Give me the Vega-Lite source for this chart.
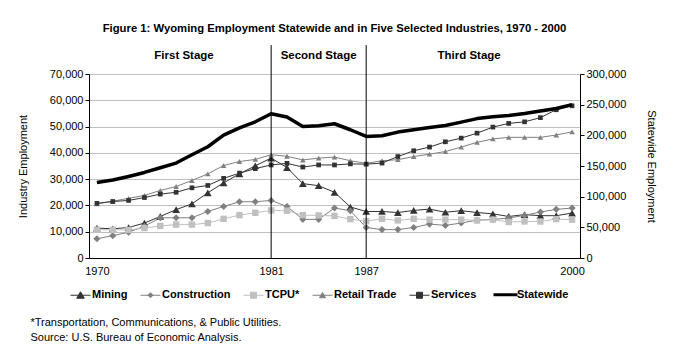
{
  "$schema": "https://vega.github.io/schema/vega-lite/v6.json",
  "width": 491,
  "height": 184,
  "autosize": "none",
  "padding": {"left": 89, "top": 74, "right": 93, "bottom": 101},
  "background": "white",
  "title": {
    "text": "Figure 1: Wyoming Employment Statewide and in Five Selected Industries, 1970 - 2000",
    "frame": "group", "anchor": "middle", "offset": 10,
    "font": "Liberation Sans", "fontSize": 11.3, "fontWeight": "bold", "color": "black"
  },
  "config": {
    "view": {"stroke": null},
    "font": "Liberation Sans",
    "axis": {
      "labelFont": "Liberation Sans", "labelFontSize": 11, "labelColor": "black",
      "titleFont": "Liberation Sans", "titleFontSize": 11, "titleFontWeight": "normal", "titleColor": "black",
      "domainColor": "black", "tickColor": "black"
    },
    "legend": {
      "orient": "none", "legendX": -14, "legendY": 215, "direction": "horizontal", "columns": 6,
      "labelFont": "Liberation Sans", "labelFontSize": 11, "labelFontWeight": "bold", "labelColor": "black",
      "symbolSize": 400, "labelOffset": 6, "columnPadding": 10, "padding": 0
    }
  },
  "data": {"values": [
    {"year":1970,"series":"Mining","value":11400},{"year":1971,"series":"Mining","value":11100},{"year":1972,"series":"Mining","value":11600},{"year":1973,"series":"Mining","value":13300},{"year":1974,"series":"Mining","value":15800},{"year":1975,"series":"Mining","value":18400},{"year":1976,"series":"Mining","value":20600},{"year":1977,"series":"Mining","value":24800},{"year":1978,"series":"Mining","value":28600},{"year":1979,"series":"Mining","value":32000},{"year":1980,"series":"Mining","value":35100},{"year":1981,"series":"Mining","value":38000},{"year":1982,"series":"Mining","value":34400},{"year":1983,"series":"Mining","value":28300},{"year":1984,"series":"Mining","value":27500},{"year":1985,"series":"Mining","value":25000},{"year":1986,"series":"Mining","value":19400},{"year":1987,"series":"Mining","value":17700},{"year":1988,"series":"Mining","value":17700},{"year":1989,"series":"Mining","value":17300},{"year":1990,"series":"Mining","value":18100},{"year":1991,"series":"Mining","value":18600},{"year":1992,"series":"Mining","value":17400},{"year":1993,"series":"Mining","value":18000},{"year":1994,"series":"Mining","value":17300},{"year":1995,"series":"Mining","value":16800},{"year":1996,"series":"Mining","value":15800},{"year":1997,"series":"Mining","value":16500},{"year":1998,"series":"Mining","value":16100},{"year":1999,"series":"Mining","value":16100},{"year":2000,"series":"Mining","value":17100},
    {"year":1970,"series":"Construction","value":7300},{"year":1971,"series":"Construction","value":8500},{"year":1972,"series":"Construction","value":9800},{"year":1973,"series":"Construction","value":12100},{"year":1974,"series":"Construction","value":15300},{"year":1975,"series":"Construction","value":15300},{"year":1976,"series":"Construction","value":15300},{"year":1977,"series":"Construction","value":17700},{"year":1978,"series":"Construction","value":19600},{"year":1979,"series":"Construction","value":21400},{"year":1980,"series":"Construction","value":21400},{"year":1981,"series":"Construction","value":21900},{"year":1982,"series":"Construction","value":19600},{"year":1983,"series":"Construction","value":14700},{"year":1984,"series":"Construction","value":14700},{"year":1985,"series":"Construction","value":19000},{"year":1986,"series":"Construction","value":18000},{"year":1987,"series":"Construction","value":11600},{"year":1988,"series":"Construction","value":10800},{"year":1989,"series":"Construction","value":10800},{"year":1990,"series":"Construction","value":11600},{"year":1991,"series":"Construction","value":12900},{"year":1992,"series":"Construction","value":12400},{"year":1993,"series":"Construction","value":13300},{"year":1994,"series":"Construction","value":14400},{"year":1995,"series":"Construction","value":14700},{"year":1996,"series":"Construction","value":15200},{"year":1997,"series":"Construction","value":16200},{"year":1998,"series":"Construction","value":17500},{"year":1999,"series":"Construction","value":18500},{"year":2000,"series":"Construction","value":19000},
    {"year":1970,"series":"TCPU*","value":10800},{"year":1971,"series":"TCPU*","value":10700},{"year":1972,"series":"TCPU*","value":10700},{"year":1973,"series":"TCPU*","value":11400},{"year":1974,"series":"TCPU*","value":12200},{"year":1975,"series":"TCPU*","value":12700},{"year":1976,"series":"TCPU*","value":12700},{"year":1977,"series":"TCPU*","value":13300},{"year":1978,"series":"TCPU*","value":14900},{"year":1979,"series":"TCPU*","value":16300},{"year":1980,"series":"TCPU*","value":17200},{"year":1981,"series":"TCPU*","value":18100},{"year":1982,"series":"TCPU*","value":18000},{"year":1983,"series":"TCPU*","value":16300},{"year":1984,"series":"TCPU*","value":16200},{"year":1985,"series":"TCPU*","value":16000},{"year":1986,"series":"TCPU*","value":14800},{"year":1987,"series":"TCPU*","value":14000},{"year":1988,"series":"TCPU*","value":14900},{"year":1989,"series":"TCPU*","value":14300},{"year":1990,"series":"TCPU*","value":14900},{"year":1991,"series":"TCPU*","value":14600},{"year":1992,"series":"TCPU*","value":14600},{"year":1993,"series":"TCPU*","value":14600},{"year":1994,"series":"TCPU*","value":14300},{"year":1995,"series":"TCPU*","value":14600},{"year":1996,"series":"TCPU*","value":13700},{"year":1997,"series":"TCPU*","value":13900},{"year":1998,"series":"TCPU*","value":13900},{"year":1999,"series":"TCPU*","value":14800},{"year":2000,"series":"TCPU*","value":14600},
    {"year":1970,"series":"Retail Trade","value":20600},{"year":1971,"series":"Retail Trade","value":21600},{"year":1972,"series":"Retail Trade","value":22700},{"year":1973,"series":"Retail Trade","value":23800},{"year":1974,"series":"Retail Trade","value":25700},{"year":1975,"series":"Retail Trade","value":27200},{"year":1976,"series":"Retail Trade","value":29500},{"year":1977,"series":"Retail Trade","value":32000},{"year":1978,"series":"Retail Trade","value":35200},{"year":1979,"series":"Retail Trade","value":36700},{"year":1980,"series":"Retail Trade","value":37500},{"year":1981,"series":"Retail Trade","value":39300},{"year":1982,"series":"Retail Trade","value":38700},{"year":1983,"series":"Retail Trade","value":37300},{"year":1984,"series":"Retail Trade","value":38000},{"year":1985,"series":"Retail Trade","value":38400},{"year":1986,"series":"Retail Trade","value":37000},{"year":1987,"series":"Retail Trade","value":36000},{"year":1988,"series":"Retail Trade","value":37000},{"year":1989,"series":"Retail Trade","value":37400},{"year":1990,"series":"Retail Trade","value":38600},{"year":1991,"series":"Retail Trade","value":39500},{"year":1992,"series":"Retail Trade","value":40500},{"year":1993,"series":"Retail Trade","value":42200},{"year":1994,"series":"Retail Trade","value":44000},{"year":1995,"series":"Retail Trade","value":45300},{"year":1996,"series":"Retail Trade","value":45900},{"year":1997,"series":"Retail Trade","value":45900},{"year":1998,"series":"Retail Trade","value":45900},{"year":1999,"series":"Retail Trade","value":46800},{"year":2000,"series":"Retail Trade","value":48000},
    {"year":1970,"series":"Services","value":20800},{"year":1971,"series":"Services","value":21500},{"year":1972,"series":"Services","value":21900},{"year":1973,"series":"Services","value":23000},{"year":1974,"series":"Services","value":24300},{"year":1975,"series":"Services","value":25000},{"year":1976,"series":"Services","value":26700},{"year":1977,"series":"Services","value":27600},{"year":1978,"series":"Services","value":30300},{"year":1979,"series":"Services","value":32300},{"year":1980,"series":"Services","value":34000},{"year":1981,"series":"Services","value":35400},{"year":1982,"series":"Services","value":36000},{"year":1983,"series":"Services","value":34600},{"year":1984,"series":"Services","value":35400},{"year":1985,"series":"Services","value":35400},{"year":1986,"series":"Services","value":35800},{"year":1987,"series":"Services","value":35700},{"year":1988,"series":"Services","value":36100},{"year":1989,"series":"Services","value":38600},{"year":1990,"series":"Services","value":40800},{"year":1991,"series":"Services","value":42200},{"year":1992,"series":"Services","value":44200},{"year":1993,"series":"Services","value":45600},{"year":1994,"series":"Services","value":47500},{"year":1995,"series":"Services","value":49800},{"year":1996,"series":"Services","value":51200},{"year":1997,"series":"Services","value":51800},{"year":1998,"series":"Services","value":53400},{"year":1999,"series":"Services","value":56400},{"year":2000,"series":"Services","value":57900},
    {"year":1970,"series":"Statewide","value":123200},{"year":1971,"series":"Statewide","value":127100},{"year":1972,"series":"Statewide","value":133000},{"year":1973,"series":"Statewide","value":139500},{"year":1974,"series":"Statewide","value":147100},{"year":1975,"series":"Statewide","value":154800},{"year":1976,"series":"Statewide","value":168300},{"year":1977,"series":"Statewide","value":181400},{"year":1978,"series":"Statewide","value":200400},{"year":1979,"series":"Statewide","value":212300},{"year":1980,"series":"Statewide","value":222100},{"year":1981,"series":"Statewide","value":235200},{"year":1982,"series":"Statewide","value":229800},{"year":1983,"series":"Statewide","value":214500},{"year":1984,"series":"Statewide","value":215600},{"year":1985,"series":"Statewide","value":218900},{"year":1986,"series":"Statewide","value":209100},{"year":1987,"series":"Statewide","value":198200},{"year":1988,"series":"Statewide","value":199300},{"year":1989,"series":"Statewide","value":205300},{"year":1990,"series":"Statewide","value":209100},{"year":1991,"series":"Statewide","value":212800},{"year":1992,"series":"Statewide","value":216100},{"year":1993,"series":"Statewide","value":221500},{"year":1994,"series":"Statewide","value":227300},{"year":1995,"series":"Statewide","value":230300},{"year":1996,"series":"Statewide","value":232400},{"year":1997,"series":"Statewide","value":235700},{"year":1998,"series":"Statewide","value":239700},{"year":1999,"series":"Statewide","value":243800},{"year":2000,"series":"Statewide","value":250100}
  ]},
  "layer": [
    {
      "layer": [
        {
          "transform": [{"filter": "datum.series !== 'Statewide'"}],
          "mark": {"type": "line", "strokeWidth": 1},
          "encoding": {
            "x": {"field": "year", "type": "quantitative",
              "scale": {"domain": [1969.5, 2000.5], "nice": false, "zero": false},
              "axis": {"values": [1970, 1981, 1987, 2000], "format": "d", "grid": false, "ticks": false, "labelPadding": 7,
                "title": ["*Transportation, Communications, & Public Utilities.", "Source: U.S. Bureau of Economic Analysis."],
                "titleAnchor": "start", "titleAlign": "left", "titleBaseline": "top", "titleX": -59, "titleY": 58, "titleLineHeight": 15}},
            "y": {"field": "value", "type": "quantitative",
              "scale": {"domain": [0, 70000], "nice": false},
              "axis": {"values": [0,10000,20000,30000,40000,50000,60000,70000], "format": ",d", "labelOverlap": false, "grid": true, "gridColor": "#c0c0c0",
                "tickSize": 4, "labelPadding": 2, "title": "Industry Employment", "titlePadding": 21}},
            "color": {"field": "series", "type": "nominal",
              "scale": {"domain": ["Mining","Construction","TCPU*","Retail Trade","Services","Statewide"],
                        "range": ["#333333","#808080","#c0c0c0","#808080","#333333","#000000"]},
              "legend": {"title": null,
                "encode": {"symbols": {"update": {
                  "shape": {"signal": "datum.value === 'Mining' ? 'M-1,0H1M-0.38,0.3L0,-0.35L0.38,0.3Z' : datum.value === 'Construction' ? 'M-1,0H1M-0.25,0L0,-0.25L0.25,0L0,0.25Z' : datum.value === 'Retail Trade' ? 'M-1,0H1M-0.3,0.25L0,-0.28L0.3,0.25Z' : datum.value === 'Statewide' ? 'M-1.2,0H1.2' : 'M-1,0H1M-0.3,-0.3H0.3V0.3H-0.3Z'"},
                  "fill": {"signal": "scale('color', datum.value)"},
                  "stroke": {"signal": "scale('color', datum.value)"},
                  "strokeWidth": {"signal": "datum.value === 'Statewide' ? 3 : 1"},
                  "opacity": {"value": 1}
                }}}}
            }
          }
        },
        {
          "transform": [{"filter": "datum.series !== 'Statewide'"}],
          "mark": {"type": "point", "filled": true, "opacity": 1, "strokeWidth": 0},
          "encoding": {
            "x": {"field": "year", "type": "quantitative",
              "scale": {"domain": [1969.5, 2000.5], "nice": false, "zero": false},
              "axis": {"values": [1970, 1981, 1987, 2000], "format": "d", "grid": false, "ticks": false, "labelPadding": 7,
                "title": ["*Transportation, Communications, & Public Utilities.", "Source: U.S. Bureau of Economic Analysis."],
                "titleAnchor": "start", "titleAlign": "left", "titleBaseline": "top", "titleX": -59, "titleY": 58, "titleLineHeight": 15}},
            "y": {"field": "value", "type": "quantitative",
              "scale": {"domain": [0, 70000], "nice": false},
              "axis": {"values": [0,10000,20000,30000,40000,50000,60000,70000], "format": ",d", "labelOverlap": false, "grid": true, "gridColor": "#c0c0c0",
                "tickSize": 4, "labelPadding": 2, "title": "Industry Employment", "titlePadding": 21}},
            "color": {"field": "series", "type": "nominal", "legend": null},
            "shape": {"field": "series", "type": "nominal", "legend": null,
              "scale": {"domain": ["Mining","Construction","TCPU*","Retail Trade","Services"],
                        "range": ["triangle-up","diamond","square","triangle-up","square"]}},
            "size": {"field": "series", "type": "nominal", "legend": null,
              "scale": {"domain": ["Mining","Construction","TCPU*","Retail Trade","Services"],
                        "range": [60, 22, 42, 34, 42]}}
          }
        },
        {
          "data": {"values": [{"year": 1981}, {"year": 1987}]},
          "mark": {"type": "rule", "color": "black", "strokeWidth": 1},
          "encoding": {
            "x": {"field": "year", "type": "quantitative",
              "scale": {"domain": [1969.5, 2000.5], "nice": false, "zero": false},
              "axis": {"values": [1970, 1981, 1987, 2000], "format": "d", "grid": false, "ticks": false, "labelPadding": 7,
                "title": ["*Transportation, Communications, & Public Utilities.", "Source: U.S. Bureau of Economic Analysis."],
                "titleAnchor": "start", "titleAlign": "left", "titleBaseline": "top", "titleX": -59, "titleY": 58, "titleLineHeight": 15}},
            "y": {"datum": 0, "scale": {"domain": [0, 70000], "nice": false},
              "axis": {"values": [0,10000,20000,30000,40000,50000,60000,70000], "format": ",d", "labelOverlap": false, "grid": true, "gridColor": "#c0c0c0",
                "tickSize": 4, "labelPadding": 2, "title": "Industry Employment", "titlePadding": 21}},
            "y2": {"datum": 81000}
          }
        },
        {
          "data": {"values": [{"stage": "First Stage", "mid": 1975.5}, {"stage": "Second Stage", "mid": 1984}, {"stage": "Third Stage", "mid": 1993.5}]},
          "mark": {"type": "text", "font": "Liberation Sans", "fontSize": 11.5, "fontWeight": "bold", "color": "black", "baseline": "middle", "align": "center"},
          "encoding": {
            "x": {"field": "mid", "type": "quantitative",
              "scale": {"domain": [1969.5, 2000.5], "nice": false, "zero": false},
              "axis": {"values": [1970, 1981, 1987, 2000], "format": "d", "grid": false, "ticks": false, "labelPadding": 7,
                "title": ["*Transportation, Communications, & Public Utilities.", "Source: U.S. Bureau of Economic Analysis."],
                "titleAnchor": "start", "titleAlign": "left", "titleBaseline": "top", "titleX": -59, "titleY": 58, "titleLineHeight": 15}},
            "y": {"datum": 76700, "scale": {"domain": [0, 70000], "nice": false},
              "axis": {"values": [0,10000,20000,30000,40000,50000,60000,70000], "format": ",d", "labelOverlap": false, "grid": true, "gridColor": "#c0c0c0",
                "tickSize": 4, "labelPadding": 2, "title": "Industry Employment", "titlePadding": 21}},
            "text": {"field": "stage"}
          }
        }
      ]
    },
    {
      "transform": [{"filter": "datum.series === 'Statewide'"}],
      "mark": {"type": "line", "strokeWidth": 3.5, "strokeJoin": "round"},
      "encoding": {
        "x": {"field": "year", "type": "quantitative",
          "scale": {"domain": [1969.5, 2000.5], "nice": false, "zero": false},
          "axis": {"values": [1970, 1981, 1987, 2000], "format": "d", "grid": false, "ticks": false, "labelPadding": 7,
            "title": ["*Transportation, Communications, & Public Utilities.", "Source: U.S. Bureau of Economic Analysis."],
            "titleAnchor": "start", "titleAlign": "left", "titleBaseline": "top", "titleX": -59, "titleY": 58, "titleLineHeight": 15}},
        "y": {"field": "value", "type": "quantitative",
          "scale": {"domain": [0, 300000], "nice": false},
          "axis": {"orient": "right", "values": [0,50000,100000,150000,200000,250000,300000], "format": ",d", "labelOverlap": false, "grid": false,
            "tickSize": 4, "labelPadding": 2, "title": "Statewide Employment", "titlePadding": 20}},
        "color": {"field": "series", "type": "nominal",
          "legend": {"title": null,
            "encode": {"symbols": {"update": {
              "shape": {"signal": "datum.value === 'Mining' ? 'M-1,0H1M-0.38,0.3L0,-0.35L0.38,0.3Z' : datum.value === 'Construction' ? 'M-1,0H1M-0.25,0L0,-0.25L0.25,0L0,0.25Z' : datum.value === 'Retail Trade' ? 'M-1,0H1M-0.3,0.25L0,-0.28L0.3,0.25Z' : datum.value === 'Statewide' ? 'M-1.2,0H1.2' : 'M-1,0H1M-0.3,-0.3H0.3V0.3H-0.3Z'"},
              "fill": {"signal": "scale('color', datum.value)"},
              "stroke": {"signal": "scale('color', datum.value)"},
              "strokeWidth": {"signal": "datum.value === 'Statewide' ? 3 : 1"},
              "opacity": {"value": 1}
            }}}}}
      }
    }
  ],
  "resolve": {"scale": {"y": "independent"}}
}
